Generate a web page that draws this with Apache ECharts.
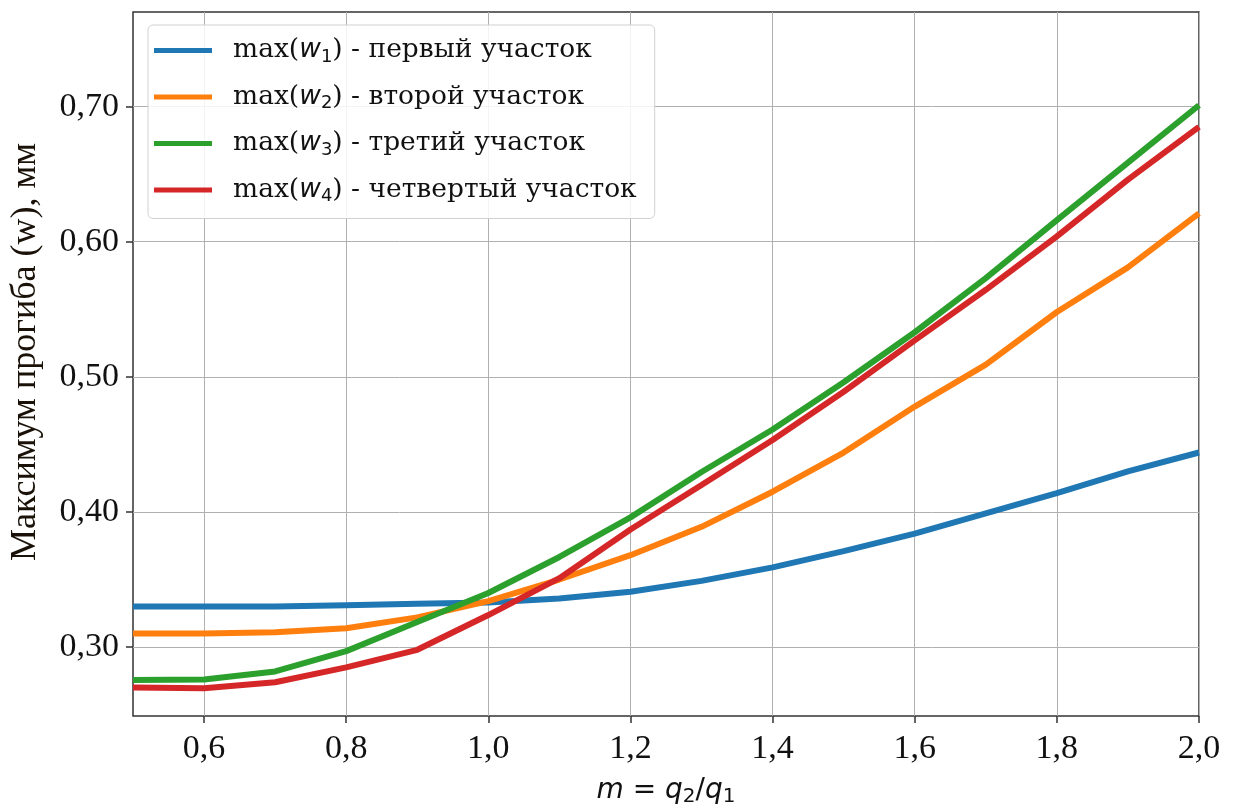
<!DOCTYPE html>
<html><head><meta charset="utf-8">
<script src="https://cdn.jsdelivr.net/npm/echarts@6/dist/echarts.min.js"></script>
<style>html,body{margin:0;padding:0;background:#fff}#c{width:1234px;height:805px}</style>
</head><body><div id="c"></div>
<script>
const mValues = [0.5,0.6,0.7,0.8,0.9,1.0,1.1,1.2,1.3,1.4,1.5,1.6,1.7,1.8,1.9,2.0];
const w1 = [0.330,0.330,0.330,0.331,0.332,0.333,0.336,0.341,0.349,0.359,0.371,0.384,0.399,0.414,0.430,0.444];
const w2 = [0.310,0.310,0.311,0.314,0.322,0.334,0.350,0.368,0.389,0.415,0.444,0.478,0.509,0.548,0.581,0.621];
const w3 = [0.2756,0.276,0.282,0.297,0.3185,0.340,0.3667,0.396,0.4296,0.461,0.496,0.533,0.573,0.616,0.6585,0.701];
const w4 = [0.270,0.2696,0.274,0.285,0.298,0.3237,0.351,0.387,0.420,0.4533,0.489,0.527,0.5644,0.604,0.646,0.685];
const seriesNames = ['max(w1) - первый участок','max(w2) - второй участок','max(w3) - третий участок','max(w4) - четвертый участок'];
const seriesRich = ['{a|max(}{i|w}{s|1}{a|) - первый участок}','{a|max(}{i|w}{s|2}{a|) - второй участок}','{a|max(}{i|w}{s|3}{a|) - третий участок}','{a|max(}{i|w}{s|4}{a|) - четвертый участок}'];
const colors = ['#1f77b4','#ff7f0e','#2ca02c','#d62728'];
const xTicks = [0.6,0.8,1.0,1.2,1.4,1.6,1.8,2.0];
const yTicks = [0.3,0.4,0.5,0.6,0.7];
const yTitle = 'Максимум прогиба (w), мм';
const allW = [w1,w2,w3,w4];

const chart = echarts.init(document.getElementById('c'), null, {renderer:'canvas'});
const fmt = (v, d) => v.toFixed(d).replace('.', ',');
chart.setOption({
  animation:false,
  color: colors,
  grid:{left:133,right:35,top:12,bottom:89,containLabel:false,outerBoundsMode:'none',show:true,borderColor:'#333',borderWidth:1.5,backgroundColor:'transparent'},
  graphic:[{
    type:'text', x:26, y:352, rotation:Math.PI/2,
    style:{text:yTitle, fontFamily:'Liberation Serif', fontSize:36, fill:'#1a1208', align:'center', verticalAlign:'middle'}
  }],
  legend:{
    orient:'vertical', left:148, top:25,
    padding:[12,18,13,6],
    backgroundColor:'rgba(255,255,255,0.85)', borderColor:'#d0d0d0', borderWidth:1, borderRadius:5,
    itemWidth:58, itemHeight:5, itemGap:17.5, icon:'rect',
    data: seriesNames,
    formatter: name => seriesRich[seriesNames.indexOf(name)],
    textStyle:{
      padding:[0,0,0,16],
      rich:{
        a:{fontFamily:'DejaVu Serif',fontSize:26.5,color:'#111',lineHeight:31},
        i:{fontFamily:'DejaVu Sans',fontStyle:'italic',fontSize:26.5,color:'#111',lineHeight:31},
        s:{fontFamily:'DejaVu Sans',fontSize:18,color:'#111',verticalAlign:'bottom',padding:[11,0,0,0],lineHeight:31}
      }
    }
  },
  xAxis:{
    type:'value', min:0.5, max:2.0,
    name:'{i|m}{o| = }{i|q}{s|2}{o|/}{i|q}{s|1}', nameLocation:'middle', nameGap:58,
    nameTextStyle:{rich:{
      i:{fontFamily:'DejaVu Sans',fontStyle:'italic',fontSize:28,color:'#111'},
      o:{fontFamily:'DejaVu Sans',fontSize:28,color:'#111'},
      s:{fontFamily:'DejaVu Sans',fontSize:20,color:'#111',padding:[13,0,0,0]}
    }},
    axisLine:{show:false},
    axisTick:{show:true,length:7,inside:false,lineStyle:{color:'#333',width:1.5},customValues:xTicks},
    axisLabel:{customValues:xTicks,formatter:v=>fmt(v,1),margin:16,fontFamily:'Liberation Serif',fontSize:34,color:'#111'},
    splitLine:{show:true,lineStyle:{color:'#b0b0b0',width:1}}
  },
  yAxis:{
    type:'value', min:0.249, max:0.770,
    axisLine:{show:false},
    axisTick:{show:true,length:7,lineStyle:{color:'#333',width:1.5},customValues:yTicks},
    axisLabel:{customValues:yTicks,formatter:v=>fmt(v,2),margin:14,fontFamily:'Liberation Serif',fontSize:34,color:'#111'},
    splitLine:{show:true,lineStyle:{color:'#b0b0b0',width:1}}
  },
  series: allW.map((w,k)=>({
    name: seriesNames[k], type:'line', data: mValues.map((m,i)=>[m,w[i]]),
    showSymbol:false, symbol:'none', lineStyle:{width:6,color:colors[k]}, itemStyle:{color:colors[k]}, z:2+k
  }))
});
</script></body></html>
